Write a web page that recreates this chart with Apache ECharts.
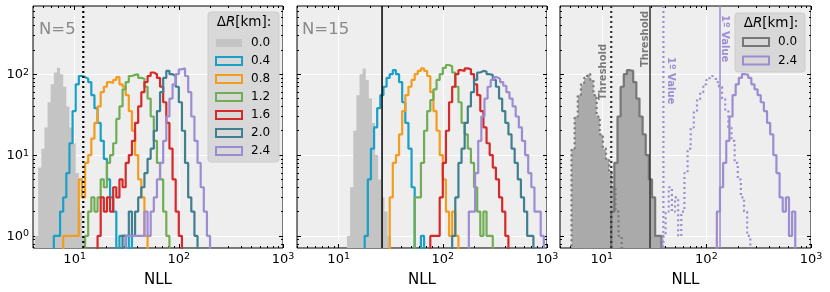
<!DOCTYPE html>
<html><head><meta charset="utf-8">
<script src="https://cdn.jsdelivr.net/npm/echarts@6/dist/echarts.min.js"></script>
<style>html,body{margin:0;padding:0;background:#fff}#c{width:830px;height:292px}</style>
</head><body><div id="c"></div>
<script>
// ---------- data (log10 bin start, bin counts; bin width in log10 units) ----------
const BIN_W = 0.03;
const xTickValues = [10, 100, 1000];
const yTickValues = [1, 10, 100];
const xMinorValues = [4,5,6,7,8,9,20,30,40,50,60,70,80,90,200,300,400,500,600,700,800,900];
const yMinorValues = [0.8,0.9,2,3,4,5,6,7,8,9,20,30,40,50,60,70,80,90,200,300,400,500,600];
const dRLabels = ['0.0','0.4','0.8','1.2','1.6','2.0','2.4'];

// Panel 1 : N=5
const p1Start = [0.62, 0.80, 0.89, 1.10, 1.22, 1.46, 1.49];
const p1_00 = [1,7,12,22,45,75,105,120,100,70,40,22,14,6,2,1];
const p1_04 = [1,1,2,3,6,14,35,75,95,92,88,80,55,38,25,15,9,5,3,2,0,1,1,0,1];
const p1_08 = [1,1,1,1,1,5,3,8,10,16,25,40,60,70,80,78,85,92,75,70,55,35,20,10,5,3,1];
const p1_12 = [1,2,3,2,3,5,4,8,10,14,28,40,65,80,95,98,100,90,88,70,50,30,15,8,5,2,1];
const p1_16 = [1,3,2,3,2,4,3,5,4,8,10,15,25,40,60,80,95,105,100,90,70,45,25,12,5,2,1];
const p1_20 = [1,1,2,1,2,3,4,6,9,12,20,35,60,90,110,100,95,70,45,20,8,3,2,1];
const p1_24 = [1,1,1,1,1,1,2,1,2,3,5,8,15,30,50,75,100,115,118,95,60,30,15,8,4,2,1];
const p1Threshold = 12.1;

// Panel 2 : N=15
const p2Start = [1.08, 1.25, 1.49, 1.73, 1.88, 2.09, 2.25];
const p2_00 = [1,4,20,55,100,118,85,50,25,10,5,3,2,1];
const p2_04 = [1,5,12,22,38,55,70,90,100,112,100,80,45,25,12,4,0,0,1];
const p2_08 = [3,8,10,18,35,55,70,85,100,110,118,110,95,60,35,20,10,5,2,1,2,1];
const p2_12 = [3,3,8,20,35,48,65,85,100,120,130,125,105,70,45,25,18,12,8,4,2,1,2,1,1];
const p2_16 = [1,1,1,3,8,20,45,70,100,112,110,118,115,100,75,55,35,22,14,10,7,5,3,2,1];
const p2_20 = [1,3,8,12,25,40,60,85,105,110,108,100,98,85,70,50,35,25,18,12,8,5,3,2,1,1];
const p2_24 = [2,2,6,15,30,50,70,85,92,88,80,72,60,50,40,30,22,15,10,6,4,2,2,1];
const p2Threshold = 26.1;

// Panel 3 : comparison (dotted = N=5, solid = N=15)
const p3Start = [0.71, 1.09, 1.58, 2.10];
const p3_00_n5  = [12,30,55,75,90,100,85,55,30,18,12,9,6,4,2,1];
const p3_00_n15 = [2,8,30,70,100,112,110,80,50,30,18,10,5,3,1,1];
const p3_24_n5  = [1,2,4,2,3,1,2,6,12,22,35,48,60,75,85,95,90,80,70,50,35,22,15,8,5,3,2,1];
const p3_24_n15 = [2,4,8,15,30,55,75,90,100,98,90,75,65,55,45,35,25,18,10,6,3,2,3,1,2];
const p3Threshold5 = 12.3, p3Threshold15 = 28.9;
const p3Value5 = 38.8, p3Value15 = 135;

// ---------- styles ----------
const F = 'DejaVu Sans';
const COLORS = ['#c4c4c4','#1a9fc6','#f39c1e','#70ad55','#d62a2a','#407f90','#9c8dd2'];
const XMIN = Math.pow(10, 0.6), XMAX = 1001, YMIN = 0.71, YMAX = 697, FLOOR = 0.05;
const GRIDS = [{left:33,width:250},{left:297,width:250},{left:560,width:251}];

function stepData(start, counts) {
  const e = i => Math.pow(10, start + i * BIN_W);
  const pts = [[e(0), FLOOR]];
  counts.forEach((c, i) => { const v = c > 0 ? c : FLOOR; pts.push([e(i), v], [e(i + 1), v]); });
  pts.push([e(counts.length), FLOOR]);
  return pts;
}
function powLabel(v) { const e = Math.round(Math.log10(v)); return '{b|10}{s|' + e + '}'; }
const rich = {
  b: {fontSize: 13, fontFamily: F, color: '#000', lineHeight: 14, verticalAlign: 'bottom'},
  s: {fontSize: 9.5, fontFamily: F, color: '#000', lineHeight: 10, padding: [0,0,6,0], verticalAlign: 'top'}
};

const grid = GRIDS.map(g => ({left: g.left, width: g.width, top: 6, height: 242, show: true,
  backgroundColor: '#eeeeee', borderColor: '#000', borderWidth: 1, outerBoundsMode: 'none', containLabel: false}));

const xAxis = [], yAxis = [];
GRIDS.forEach((g, gi) => {
  const base = {gridIndex: gi, type: 'log', logBase: 10, axisLine: {show: false, onZero: false}, splitLine: {show: false}, axisLabel: {show: false}, minorTick: {show: false}};
  const tick = (vals, len) => ({show: true, inside: true, length: len, customValues: vals, lineStyle: {color: '#000', width: 1}});
  xAxis.push(Object.assign({}, base, {min: XMIN, max: XMAX, position: 'bottom', axisTick: tick(xTickValues, 4),
    axisLabel: {show: true, customValues: xTickValues, formatter: powLabel, rich: rich, margin: 4},
    splitLine: {show: true, lineStyle: {color: '#ffffff', width: 1}},
    name: 'NLL', nameLocation: 'middle', nameGap: 20, nameTextStyle: {fontSize: 15, fontFamily: F, color: '#000'}}));
  xAxis.push(Object.assign({}, base, {min: XMIN, max: XMAX, position: 'bottom', axisTick: tick(xMinorValues, 2)}));
  xAxis.push(Object.assign({}, base, {min: XMIN, max: XMAX, position: 'top', axisTick: tick(xTickValues, 4)}));
  xAxis.push(Object.assign({}, base, {min: XMIN, max: XMAX, position: 'top', axisTick: tick(xMinorValues, 2)}));
  yAxis.push(Object.assign({}, base, {min: YMIN, max: YMAX, position: 'left', axisTick: tick(yTickValues, 4),
    axisLabel: {show: gi === 0, customValues: yTickValues, formatter: powLabel, rich: rich, margin: 4},
    splitLine: {show: true, lineStyle: {color: '#ffffff', width: 1}}}));
  yAxis.push(Object.assign({}, base, {min: YMIN, max: YMAX, position: 'left', axisTick: tick(yMinorValues, 2)}));
  yAxis.push(Object.assign({}, base, {min: YMIN, max: YMAX, position: 'right', axisTick: tick(yTickValues, 4)}));
  yAxis.push(Object.assign({}, base, {min: YMIN, max: YMAX, position: 'right', axisTick: tick(yMinorValues, 2)}));
});

function hist(gi, name, start, counts, color, opts) {
  opts = opts || {};
  const s = {type: 'line', name: name, xAxisIndex: gi * 4, yAxisIndex: gi * 4, data: stepData(start, counts),
    symbol: 'none', showSymbol: false, animation: false, silent: true, clip: true, z: opts.z || 3,
    itemStyle: {color: color},
    lineStyle: {color: opts.lineColor || color, width: opts.width == null ? 2.2 : opts.width, type: opts.dash || 'solid'}};
  if (opts.fill) s.areaStyle = {color: opts.fill, opacity: 1, origin: 'start'};
  return s;
}
function vline(gi, x, color, dash, width) {
  return {type: 'line', xAxisIndex: gi * 4, yAxisIndex: gi * 4, data: [[x, YMIN], [x, YMAX]], symbol: 'none',
    animation: false, silent: true, z: 5, lineStyle: {color: color, width: width, type: dash}};
}

const series = [];
const p1 = [p1_00, p1_04, p1_08, p1_12, p1_16, p1_20, p1_24];
const p2 = [p2_00, p2_04, p2_08, p2_12, p2_16, p2_20, p2_24];
[p1, p2].forEach((arr, gi) => {
  const starts = gi === 0 ? p1Start : p2Start;
  arr.forEach((counts, k) => {
    if (k === 0) series.push(hist(gi, dRLabels[k], starts[k], counts, COLORS[0], {fill: COLORS[0], width: 0, z: 2}));
    else series.push(hist(gi, dRLabels[k], starts[k], counts, COLORS[k]));
  });
});
series.push(vline(0, p1Threshold, '#000', [2, 3], 2.2));
series.push(vline(1, p2Threshold, '#000', 'solid', 1.5));
const GRAY3 = '#aaaaaa', EDGE3 = '#777777', PURP = COLORS[6];
series.push(hist(2, '0.0', p3Start[0], p3_00_n5, EDGE3, {fill: GRAY3, dash: [2, 3], z: 2}));
series.push(hist(2, '0.0', p3Start[1], p3_00_n15, EDGE3, {fill: GRAY3, z: 2}));
series.push(hist(2, '2.4', p3Start[2], p3_24_n5, PURP, {dash: [2, 3]}));
series.push(hist(2, '2.4', p3Start[3], p3_24_n15, PURP));
series.push(vline(2, p3Threshold5, '#333', [2, 3], 2.2));
series.push(vline(2, p3Threshold15, '#333', 'solid', 1.5));
series.push(vline(2, p3Value5, PURP, [2, 3], 2.2));
series.push(vline(2, p3Value15, PURP, 'solid', 1.5));

function legendItems(names, styles) {
  return names.map((n, i) => ({name: n, icon: 'rect', itemStyle: styles[i]}));
}
const outline = c => ({color: 'rgba(0,0,0,0)', borderColor: c, borderWidth: 2});
const legend = [
  {left: 215, top: 36, orient: 'vertical', itemWidth: 26, itemHeight: 8, itemGap: 4, padding: 0, z: 110, selectedMode: false,
   textStyle: {fontSize: 12, fontFamily: F, color: '#000', lineHeight: 14, padding: [0,0,0,4]},
   data: legendItems(dRLabels, dRLabels.map((n, i) => i === 0 ? {color: COLORS[0], borderWidth: 0} : outline(COLORS[i])))},
  {left: 742, top: 35, orient: 'vertical', itemWidth: 26, itemHeight: 8, itemGap: 4.5, padding: 0, z: 110, selectedMode: false,
   textStyle: {fontSize: 12, fontFamily: F, color: '#000', lineHeight: 14, padding: [0,0,0,4]},
   data: legendItems(['0.0', '2.4'], [outline(EDGE3), outline(PURP)])}
];

const chart = echarts.init(document.getElementById('c'), null, {renderer: 'canvas'});
chart.setOption({animation: false, textStyle: {fontFamily: F}, grid, xAxis, yAxis, series, legend});

// ---------- annotations (boxes, titles, rotated labels) ----------
const titleRich = {a: {fontSize: 13.5, fontFamily: F, color: '#000'}, i: {fontSize: 13.5, fontFamily: F, fontStyle: 'italic', color: '#000'}};
const px = (gi, v) => chart.convertToPixel({xAxisIndex: gi * 4}, v);
const graphic = [
  {type: 'rect', z: 100, shape: {x: 208, y: 12, width: 71, height: 150, r: 3}, style: {fill: '#d8d8d8', stroke: '#cccccc', lineWidth: 1}},
  {type: 'text', z: 101, x: 244, y: 22.5, style: {text: '{a|Δ}{i|R}{a|[km]:}', rich: titleRich, align: 'center', verticalAlign: 'middle'}},
  {type: 'rect', z: 100, shape: {x: 735, y: 13, width: 70, height: 59, r: 3}, style: {fill: '#d8d8d8', stroke: '#cccccc', lineWidth: 1}},
  {type: 'text', z: 101, x: 771, y: 23, style: {text: '{a|Δ}{i|R}{a|[km]:}', rich: titleRich, align: 'center', verticalAlign: 'middle'}},
  {type: 'text', z: 101, x: 39, y: 30, style: {text: 'N=5', font: '16.5px "DejaVu Sans"', fill: '#8a8a8a', align: 'left', verticalAlign: 'middle'}},
  {type: 'text', z: 101, x: 302, y: 30, style: {text: 'N=15', font: '16.5px "DejaVu Sans"', fill: '#8a8a8a', align: 'left', verticalAlign: 'middle'}}
];
const notes = [
  {text: 'Threshold', v: p3Threshold5, dx: -7.5, y: 100, rot: Math.PI / 2, color: '#7a7a7a'},
  {text: 'Threshold', v: p3Threshold15, dx: -5, y: 67, rot: Math.PI / 2, color: '#7a7a7a'},
  {text: '1º Value', v: p3Value5, dx: 7.5, y: 57, rot: -Math.PI / 2, color: PURP},
  {text: '1º Value', v: p3Value15, dx: 4.8, y: 15, rot: -Math.PI / 2, color: PURP}
];
notes.forEach(n => graphic.push({type: 'text', z: 101, x: px(2, n.v) + n.dx, y: n.y, rotation: n.rot,
  style: {text: n.text, font: 'bold 10px "DejaVu Sans"', fill: n.color, align: 'left', verticalAlign: 'middle'}}));
chart.setOption({graphic});
</script></body></html>
